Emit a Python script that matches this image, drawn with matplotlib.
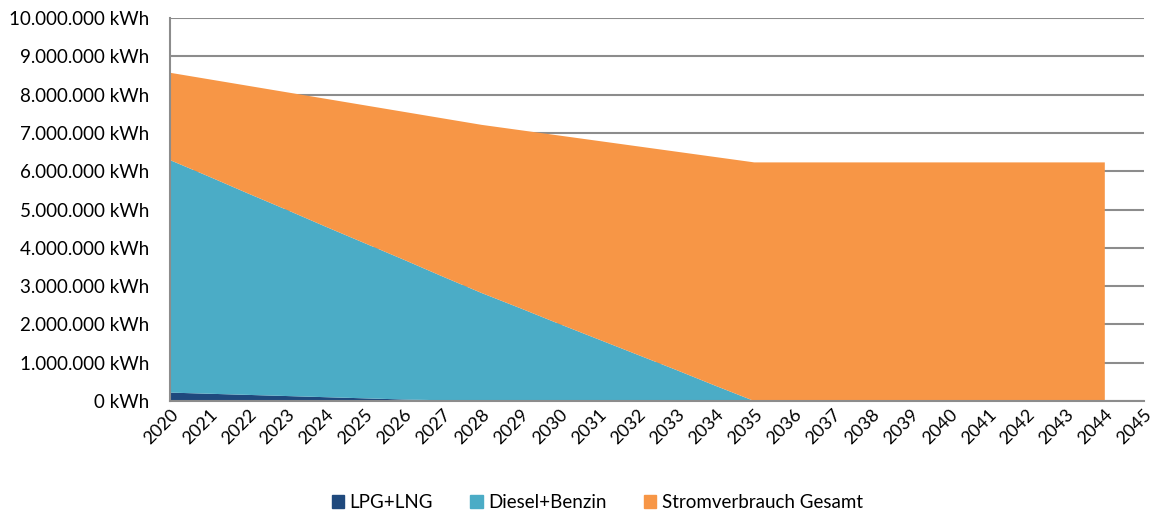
import matplotlib.pyplot as plt
from matplotlib.patches import Patch
from matplotlib.ticker import FuncFormatter

years = list(range(2020, 2045))

# kWh per year
lpg = [220000, 190000, 160000, 130000, 100000, 70000, 40000, 20000, 0,
       0, 0, 0, 0, 0, 0, 0, 0, 0, 0, 0, 0, 0, 0, 0, 0]
diesel = [6070000, 5670000, 5260000, 4860000, 4450000, 4050000, 3650000, 3230000, 2820000,
          2420000, 2010000, 1610000, 1210000, 810000, 400000, 0,
          0, 0, 0, 0, 0, 0, 0, 0, 0]
strom = [2280000, 2540000, 2810000, 3070000, 3340000, 3600000, 3860000, 4130000, 4390000,
         4650000, 4920000, 5180000, 5440000, 5700000, 5970000, 6230000,
         6230000, 6230000, 6230000, 6230000, 6230000, 6230000, 6230000, 6230000, 6230000]

labels = ['LPG+LNG', 'Diesel+Benzin', 'Stromverbrauch Gesamt']
colors = ['#1F497D', '#4BACC6', '#F79646']

plt.rcParams['font.family'] = ['Lato', 'DejaVu Sans']

fig = plt.figure(figsize=(11.6, 5.14), dpi=100)
ax = fig.add_axes([0.1466, 0.2198, 0.8394, 0.7452])

ax.stackplot(years, lpg, diesel, strom, colors=colors, linewidth=0)

ax.set_xlim(2020, 2045)
ax.set_ylim(0, 10000000)
ax.set_xticks(range(2020, 2046))
ax.set_xticklabels([str(y) for y in range(2020, 2046)], rotation=45,
                   ha='right', rotation_mode='anchor', fontsize=13)
ax.set_yticks(range(0, 10000001, 1000000))


def kwh(v, pos):
    return '{:,.0f} kWh'.format(v).replace(',', '.')


ax.yaxis.set_major_formatter(FuncFormatter(kwh))
ax.tick_params(axis='y', length=0, labelsize=13.5, pad=15)
ax.tick_params(axis='x', length=0, pad=4)

ax.grid(axis='y', color='#8C8C8C', linewidth=1.5)
ax.set_axisbelow(True)
for s in ['top', 'right']:
    ax.spines[s].set_visible(False)
ax.spines['left'].set_color('#8C8C8C')
ax.spines['bottom'].set_color('#8C8C8C')
ax.spines['left'].set_linewidth(1.5)
ax.spines['bottom'].set_linewidth(1.5)

handles = [Patch(color=c, label=l) for c, l in zip(colors, labels)]
fig.legend(handles=handles, loc='center', bbox_to_anchor=(0.515, 0.022), ncol=3,
           frameon=False, fontsize=13.5, handlelength=0.65, handleheight=0.65,
           handletextpad=0.3, columnspacing=2.0)

fig.savefig('out.png', dpi=100)
